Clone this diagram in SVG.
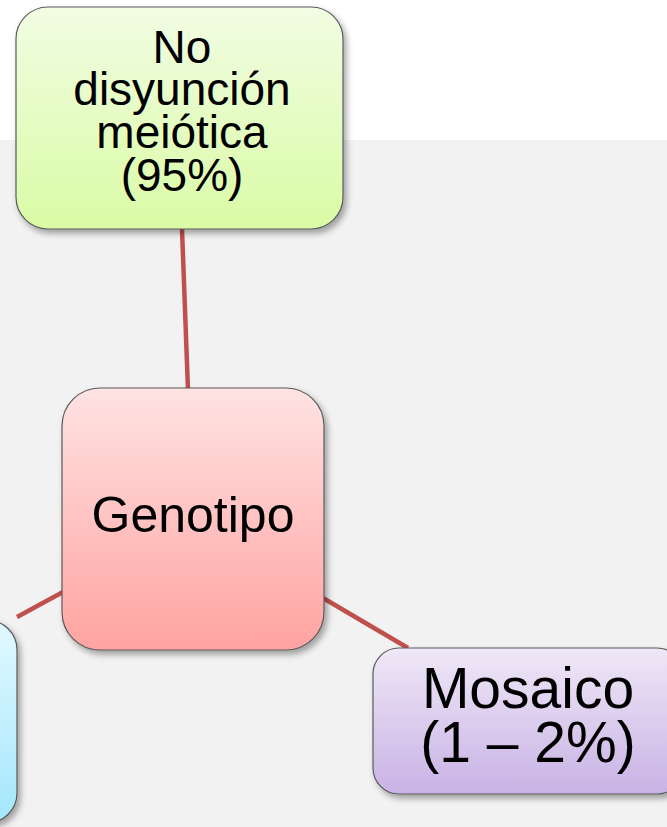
<svg xmlns="http://www.w3.org/2000/svg" width="667" height="827" viewBox="0 0 667 827">
<style>
.node{stroke:#5a5a5a;stroke-width:1.2}
.t{font-family:"Liberation Sans",Arial,Helvetica,sans-serif;fill:#000;text-anchor:middle}
.c{stroke:#c0504d;stroke-width:4.5;fill:none}
</style>
<defs>
<filter id="sh" x="-20%" y="-20%" width="140%" height="140%">
<feDropShadow dx="3" dy="4" stdDeviation="3" flood-color="#000" flood-opacity="0.35"/>
</filter>
<linearGradient id="gG" x1="0" y1="0" x2="0" y2="1"><stop offset="0" stop-color="#f1fde3"/><stop offset="1" stop-color="#dafba5"/></linearGradient>
<linearGradient id="gR" x1="0" y1="0" x2="0" y2="1"><stop offset="0" stop-color="#ffe3e3"/><stop offset="1" stop-color="#ffa3a1"/></linearGradient>
<linearGradient id="gP" x1="0" y1="0" x2="0" y2="1"><stop offset="0" stop-color="#efe8f7"/><stop offset="1" stop-color="#c9b2e5"/></linearGradient>
<linearGradient id="gB" x1="0" y1="0" x2="0" y2="1"><stop offset="0" stop-color="#e2f9ff"/><stop offset="1" stop-color="#a3e7fc"/></linearGradient>
</defs>
<rect x="0" y="0" width="667" height="827" fill="#ffffff"/>
<rect x="0" y="140" width="667" height="687" fill="#f2f2f2"/>
<g id="connectors">
<line class="c" x1="182" y1="229" x2="188" y2="390"/>
<line class="c" x1="63" y1="592" x2="17" y2="617"/>
<line class="c" x1="323" y1="598" x2="408" y2="648"/>
</g>
<g id="node-nodisyuncion">
<rect class="node" x="16" y="7" width="327" height="222" rx="32" fill="url(#gG)" filter="url(#sh)"/>
<text class="t" font-size="46"><tspan x="182" y="63">No</tspan><tspan x="182" y="105">disyunción</tspan><tspan x="182" y="148">meiótica</tspan><tspan x="182" y="191">(95%)</tspan></text>
</g>
<g id="node-genotipo">
<rect class="node" x="62" y="388" width="262" height="262" rx="38" fill="url(#gR)" filter="url(#sh)"/>
<text class="t" font-size="50" x="193" y="532">Genotipo</text>
</g>
<g id="node-mosaico">
<rect class="node" x="373" y="648" width="310" height="146" rx="26" fill="url(#gP)" filter="url(#sh)"/>
<text class="t" font-size="57"><tspan x="528" y="708">Mosaico</tspan><tspan x="528" y="762">(1 – 2%)</tspan></text>
</g>
<g id="node-left">
<rect class="node" x="-300" y="620" width="317" height="203" rx="30" fill="url(#gB)" filter="url(#sh)"/>
</g>
</svg>
